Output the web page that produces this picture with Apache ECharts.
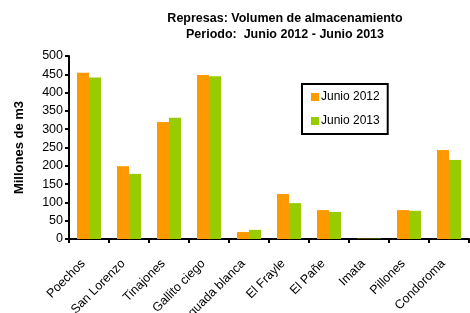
<!DOCTYPE html>
<html>
<head>
<meta charset="utf-8">
<script src="https://cdn.jsdelivr.net/npm/echarts@6/dist/echarts.min.js"></script>
<style>
  html, body { margin: 0; padding: 0; background: #fff; }
  #chart { width: 470px; height: 313px; }
</style>
</head>
<body>
<div id="chart"></div>
<script>
const categories = ['Poechos', 'San Lorenzo', 'Tinajones', 'Gallito ciego', 'Aguada blanca', 'El Frayle', 'El Pañe', 'Imata', 'Pillones', 'Condoroma'];
const junio2012 = [454, 199, 320, 448, 19, 123, 79, 1, 79, 243];
const junio2013 = [441, 178, 331, 445, 25, 98, 74, 1, 77, 216];
const yTicks = [0, 50, 100, 150, 200, 250, 300, 350, 400, 450, 500];

let myChart = echarts.init(document.getElementById('chart'));
const font = 'Liberation Sans, Arial, sans-serif';

let option = {
  animation: false,
  title: {
    text: 'Represas: Volumen de almacenamiento\nPeriodo:  Junio 2012 - Junio 2013',
    left: 280,
    top: 6,
    textAlign: 'center',
    textStyle: { fontFamily: font, fontSize: 12.5, fontWeight: 'bold', color: '#000', lineHeight: 16 }
  },
  legend: {
    orient: 'vertical',
    left: 302,
    top: 84,
    width: 88,
    padding: [7, 8, 7, 9],
    borderColor: '#000',
    borderWidth: 2,
    itemWidth: 8,
    itemHeight: 8,
    itemGap: 12,
    icon: 'rect',
    textStyle: { fontFamily: font, fontSize: 12, color: '#000', padding: [0, 0, 0, -3] },
    data: ['Junio 2012', 'Junio 2013']
  },
  grid: { left: 69, right: 1, top: 56, bottom: 74, containLabel: false, outerBoundsMode: 'none' },
  xAxis: {
    type: 'category',
    data: categories,
    axisLine: { lineStyle: { color: '#000', width: 2 } },
    axisTick: { show: true, alignWithLabel: false, length: 4, lineStyle: { color: '#000', width: 2 } },
    axisLabel: { rotate: 45, interval: 0, fontFamily: font, fontSize: 12.5, color: '#000', margin: 17, padding: [0, 8, 0, 0] }
  },
  yAxis: {
    type: 'value',
    min: 0,
    max: 500,
    interval: 50,
    name: 'Millones de m3',
    nameLocation: 'middle',
    nameGap: 43,
    nameTextStyle: { fontFamily: font, fontSize: 13, fontWeight: 'bold', color: '#000' },
    axisLine: { show: true, lineStyle: { color: '#000', width: 2 } },
    axisTick: { show: true, inside: false, length: 4, lineStyle: { color: '#000', width: 2 } },
    axisLabel: {
      fontFamily: font, fontSize: 12.5, color: '#000', margin: 6,
      formatter: v => yTicks.includes(v) ? String(v) : ''
    },
    splitLine: { show: false }
  },
  series: [
    {
      name: 'Junio 2012',
      type: 'bar',
      data: junio2012,
      barGap: '0%',
      barCategoryGap: '40%',
      itemStyle: { color: '#FF9900' }
    },
    {
      name: 'Junio 2013',
      type: 'bar',
      data: junio2013,
      barGap: '0%',
      barCategoryGap: '40%',
      itemStyle: { color: '#99CC00' }
    }
  ]
};

myChart.setOption(option);
</script>
</body>
</html>
